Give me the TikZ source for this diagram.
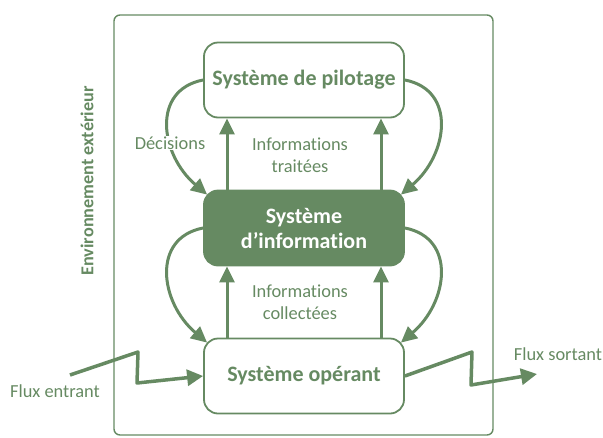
\documentclass[tikz,border=0pt]{standalone}
\usepackage{fontspec}
\setmainfont[Ligatures=NoCommon]{Carlito}
\usetikzlibrary{arrows.meta,positioning}
\definecolor{sysgreen}{RGB}{102,138,98}

\begin{document}
\begin{tikzpicture}[x=1pt,y=-1pt,node distance=148pt,on grid,color=sysgreen,
    font=\fontsize{18.4}{22}\selectfont,
    box/.style={draw,line width=1.8pt,rounded corners=14pt,minimum width=200pt,
      minimum height=75pt,align=center,font=\fontsize{22}{25}\selectfont\bfseries},
    flow/.style={line width=3pt,-{Triangle[length=16pt,width=15pt]}},
    flux/.style={line width=3.5pt,line join=round,-{Triangle[length=16pt,width=16pt]}}]
    \useasboundingbox (0,0) rectangle (603,437);

    \node[draw,line width=1.4pt,rounded corners=6pt,minimum width=379pt,
      minimum height=420pt] (env) at (303.5,225) {};
    \node[rotate=90,font=\fontsize{18.2}{22}\selectfont\bfseries] (envlabel) at (87,181) {Environnement extérieur};

    \node[box]                               (pilot) at (304,80)      {Système de pilotage};
    \node[box,fill=sysgreen,text=white]      (info)  [below=of pilot] {Système\\d’information};
    \node[box]                               (oper)  [below=of info]  {Système opérant};

    % informations remontees
    \draw[flow] ([xshift=-77pt]info.north) -- ([xshift=-77pt]pilot.south);
    \draw[flow] ([xshift=77pt]info.north)  -- ([xshift=77pt]pilot.south);
    \draw[flow] ([xshift=-77pt]oper.north) -- ([xshift=-77pt]info.south);
    \draw[flow] ([xshift=77pt]oper.north)  -- ([xshift=77pt]info.south);

    % boucles laterales
    \draw[flow] (pilot.west) .. controls +(-52,10) and +(-47,-40) .. ([shift={(4,5)}]info.north west);
    \draw[flow] (pilot.east) .. controls +(52,10) and +(47,-40) .. ([shift={(-4,5)}]info.north east);
    \draw[flow] (info.west) .. controls +(-52,10) and +(-47,-40) .. ([shift={(4,5)}]oper.north west);
    \draw[flow] (info.east) .. controls +(52,10) and +(47,-40) .. ([shift={(-4,5)}]oper.north east);

    \node[fill=white,inner sep=1pt] (dec) at (170,143) {Décisions};
    \node[align=center] (traitees)   at (300,155) {Informations\\traitées};
    \node[align=center] (collectees) at (300,302) {Informations\\collectées};

    % flux
    \coordinate (fin)  at (70,375);
    \coordinate (fout) at (537,374);
    \draw[flux] (fin) -- (138,352) -- (137,383) -- (oper.west);
    \draw[flux] (oper.east) -- (472,352) -- (471,385) -- (fout);
    \node (entrant) at (55,391)  {Flux entrant};
    \node (sortant) at (558,354) {Flux sortant};
\end{tikzpicture}
\end{document}
